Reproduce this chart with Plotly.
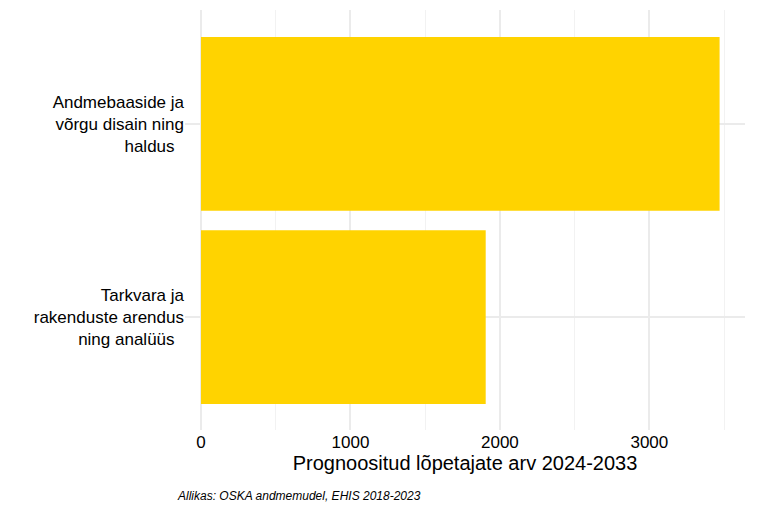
import plotly.graph_objects as go

categories = ["Tarkvara ja<br>rakenduste arendus<br>ning analüüs",
              "Andmebaaside ja<br>võrgu disain ning<br>haldus"]
values = [1905, 3470]
x_ticks = [0, 1000, 2000, 3000]

fig = go.Figure()
fig.add_trace(go.Bar(x=values, y=categories, orientation="h",
                     marker=dict(color="#FFD300", line=dict(width=0)), width=0.9))

fig.update_layout(
    width=768, height=512,
    margin=dict(l=177, r=31, t=2, b=90, autoexpand=False),
    paper_bgcolor="white", plot_bgcolor="white",
    font=dict(family="Liberation Sans, Arial, sans-serif", size=17, color="black"),
    showlegend=False,
    annotations=[dict(text="<i>Allikas: OSKA andmemudel, EHIS 2018-2023</i>",
                      xref="paper", yref="paper", x=-0.018, y=-0.157,
                      xanchor="left", yanchor="middle", showarrow=False,
                      font=dict(size=12))],
)
fig.update_xaxes(range=[-107, 3640], tickvals=x_ticks, showgrid=True,
                 gridcolor="#ebebeb", gridwidth=1.5, zeroline=False,
                 minor=dict(dtick=500, showgrid=True, gridcolor="#f2f2f2", gridwidth=1),
                 title=dict(text="Prognoositud lõpetajate arv 2024-2033", standoff=4),
                 tickfont=dict(size=17), automargin=False)
fig.update_yaxes(range=[-0.585, 1.59], showgrid=True, gridcolor="#ebebeb",
                 gridwidth=1.5, ticksuffix="  ", tickfont=dict(size=17),
                 automargin=False)

fig.write_html("out.html")
